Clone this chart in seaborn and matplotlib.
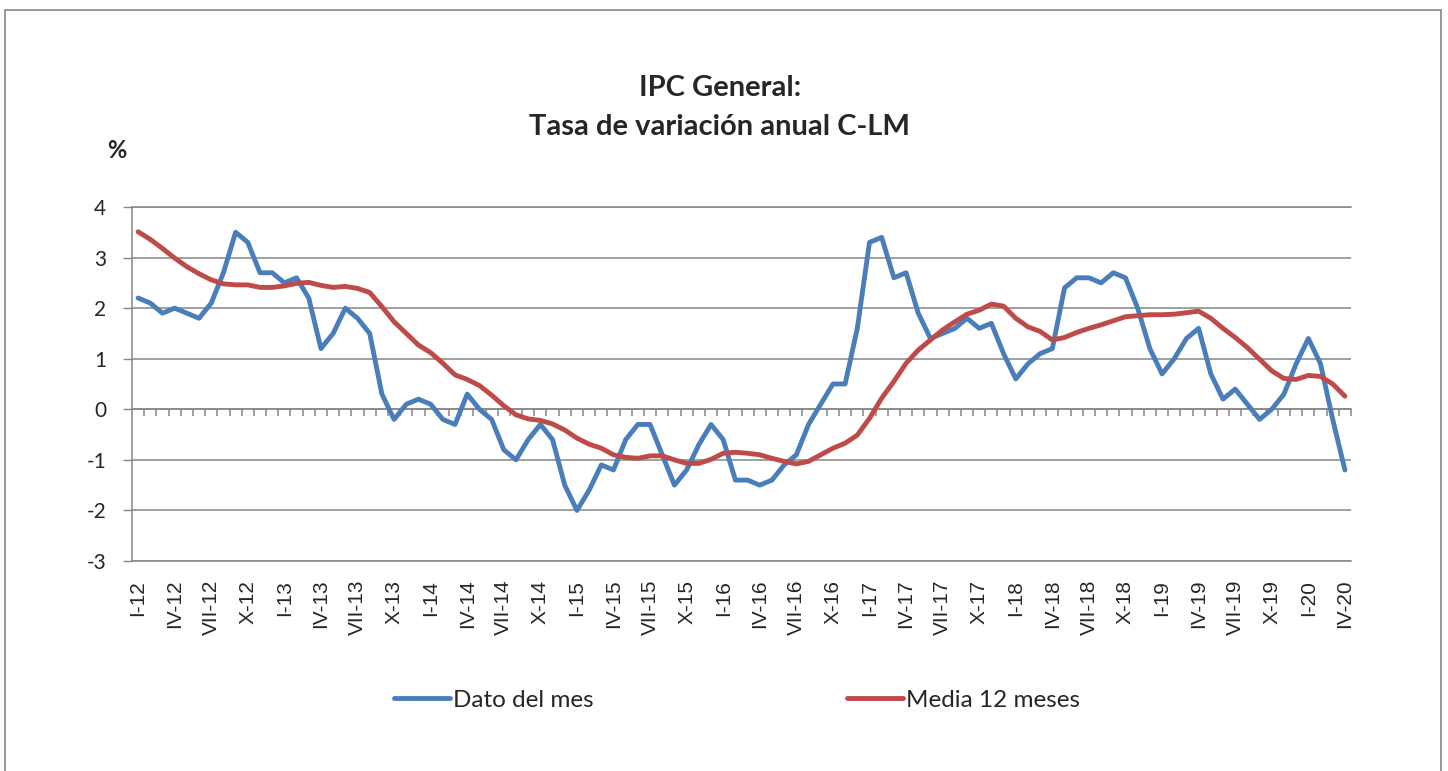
import numpy as np
import pandas as pd
import matplotlib
matplotlib.use("Agg")
import matplotlib.pyplot as plt
import seaborn as sns
from matplotlib.patches import Rectangle

# IPC General C-LM, monthly annual rate (%), Jan 2012 - Apr 2020
dato_mes = [2.2, 2.1, 1.9, 2.0, 1.9, 1.8, 2.1, 2.7, 3.5, 3.3, 2.7, 2.7,
            2.5, 2.6, 2.2, 1.2, 1.5, 2.0, 1.8, 1.5, 0.3, -0.2, 0.1, 0.2,
            0.1, -0.2, -0.3, 0.3, 0.0, -0.2, -0.8, -1.0, -0.6, -0.3, -0.6, -1.5,
            -2.0, -1.6, -1.1, -1.2, -0.6, -0.3, -0.3, -0.9, -1.5, -1.2, -0.7, -0.3,
            -0.6, -1.4, -1.4, -1.5, -1.4, -1.1, -0.9, -0.3, 0.1, 0.5, 0.5, 1.6,
            3.3, 3.4, 2.6, 2.7, 1.9, 1.4, 1.5, 1.6, 1.8, 1.6, 1.7, 1.1,
            0.6, 0.9, 1.1, 1.2, 2.4, 2.6, 2.6, 2.5, 2.7, 2.6, 2.0, 1.2,
            0.7, 1.0, 1.4, 1.6, 0.7, 0.2, 0.4, 0.1, -0.2, 0.0, 0.3, 0.9,
            1.4, 0.9, -0.2, -1.2]

media_12 = [3.51, 3.36, 3.18, 2.99, 2.82, 2.68, 2.56, 2.48, 2.46, 2.46, 2.41, 2.41,
            2.44, 2.49, 2.51, 2.45, 2.41, 2.43, 2.39, 2.31, 2.03, 1.73, 1.50, 1.27,
            1.12, 0.91, 0.68, 0.59, 0.47, 0.28, 0.07, -0.11, -0.19, -0.22, -0.29, -0.41,
            -0.57, -0.69, -0.77, -0.90, -0.95, -0.97, -0.92, -0.92, -1.00, -1.07, -1.07, -0.99,
            -0.87, -0.85, -0.87, -0.90, -0.97, -1.03, -1.08, -1.03, -0.90, -0.77, -0.67, -0.51,
            -0.18, 0.22, 0.55, 0.91, 1.17, 1.37, 1.57, 1.73, 1.88, 1.96, 2.08, 2.04,
            1.80, 1.63, 1.54, 1.37, 1.42, 1.52, 1.60, 1.67, 1.75, 1.83, 1.85, 1.87,
            1.87, 1.88, 1.91, 1.94, 1.80, 1.60, 1.42, 1.22, 0.99, 0.76, 0.61, 0.59,
            0.67, 0.65, 0.50, 0.26]

tick_labels = ["I-12", "IV-12", "VII-12", "X-12", "I-13", "IV-13", "VII-13", "X-13",
               "I-14", "IV-14", "VII-14", "X-14", "I-15", "IV-15", "VII-15", "X-15",
               "I-16", "IV-16", "VII-16", "X-16", "I-17", "IV-17", "VII-17", "X-17",
               "I-18", "IV-18", "VII-18", "X-18", "I-19", "IV-19", "VII-19", "X-19",
               "I-20", "IV-20"]
series_names = ["Dato del mes", "Media 12 meses"]
y_ticks = [-3, -2, -1, 0, 1, 2, 3, 4]

blue = "#4A7EBB"
red = "#BE4B48"
gray = "#868686"

n = len(dato_mes)
df = pd.DataFrame({
    "mes": list(range(n)) * 2,
    "valor": dato_mes + media_12,
    "serie": [series_names[0]] * n + [series_names[1]] * n,
})

sns.set_style("white")
plt.rcParams["font.family"] = ["Lato", "DejaVu Sans"]

fig = plt.figure(figsize=(14.48, 7.71), dpi=100)
ax = fig.add_axes([132 / 1448, 1 - 561 / 771, 1219 / 1448, 354 / 771])

sns.lineplot(data=df, x="mes", y="valor", hue="serie", palette=[blue, red],
             linewidth=3.5, ax=ax, solid_joinstyle="round", solid_capstyle="round")

ax.set_xlim(-0.5, n - 0.5)
ax.set_ylim(-3, 4)
ax.set_yticks(y_ticks)
ax.set_yticklabels([str(v) for v in y_ticks], fontsize=15)
ax.set_xticks(list(range(0, n, 3)))
ax.set_xticklabels(tick_labels, rotation=90, fontsize=15, family="Liberation Sans")
ax.tick_params(axis="x", length=0, pad=13.5)
ax.tick_params(axis="y", direction="out", length=6.5, width=1, color=gray, pad=12, left=True)
ax.set_xlabel("")
ax.set_ylabel("")
ax.yaxis.grid(True, color=gray, lw=1.1)
ax.xaxis.grid(False)
ax.set_axisbelow(True)
for side in ["left", "top", "bottom"]:
    ax.spines[side].set_color(gray)
    ax.spines[side].set_linewidth(1.1)
ax.spines["right"].set_visible(False)

# category tick marks along the zero line
zero_axis = ax.secondary_xaxis(3 / 7)
zero_axis.set_xticks(np.arange(0.5, n, 1))
zero_axis.set_xticklabels([])
zero_axis.tick_params(axis="x", direction="out", length=5, width=1.1, color=gray)
for sp in zero_axis.spines.values():
    sp.set_color(gray)
    sp.set_linewidth(1.1)

handles, labels = ax.get_legend_handles_labels()
ax.get_legend().remove()
fig.legend(handles, labels, loc="center", bbox_to_anchor=(0.509, 1 - 700 / 771),
           ncol=2, frameon=False, fontsize=17.5, handlelength=2.3,
           handletextpad=0.15, columnspacing=10.4)

fig.text(0.497, 1 - 88 / 771, "IPC General:", ha="center", va="center",
         fontsize=21, fontweight="bold")
fig.text(0.497, 1 - 127 / 771, "Tasa de variación anual C-LM", ha="center", va="center",
         fontsize=21, fontweight="bold")
fig.text(117 / 1448, 1 - 150 / 771, "%", ha="center", va="center",
         fontsize=17, fontweight="bold")

fig.patches.append(Rectangle((5 / 1448, -0.05), 1436 / 1448, 1.05 - 10 / 771,
                             transform=fig.transFigure, fill=False,
                             edgecolor=gray, lw=1.2))

fig.savefig("out.png", dpi=100)
